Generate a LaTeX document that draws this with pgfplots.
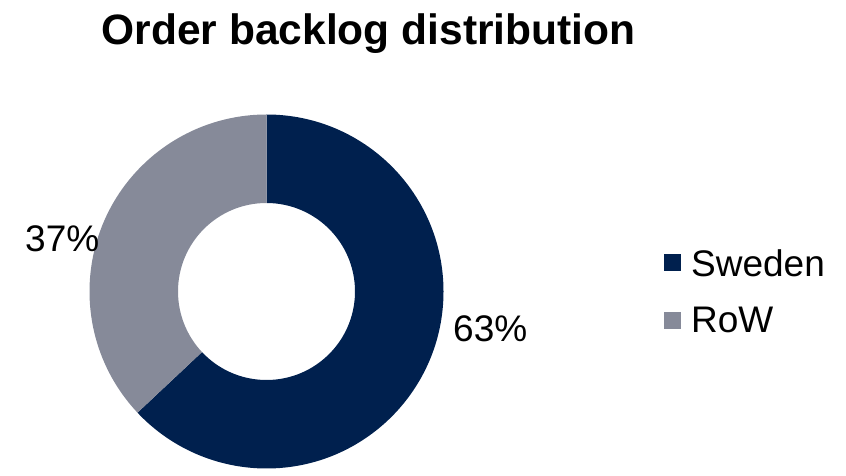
\documentclass[border=0pt]{standalone}
\usepackage{fontspec}
\setmainfont{Liberation Sans}
\usepackage{pgfplots}
\usepackage{pgfplotstable}
\pgfplotsset{compat=1.18}
\usetikzlibrary{calc}
\definecolor{sweden}{RGB}{0,32,78}
\definecolor{rowc}{RGB}{134,138,153}
\pgfplotstableread{
name value
Sweden 63
RoW 37
}\backlog
\begin{document}
\pgfplotstablegetelem{0}{value}\of\backlog\edef\vA{\pgfplotsretval}%
\pgfplotstablegetelem{1}{value}\of\backlog\edef\vB{\pgfplotsretval}%
\pgfmathsetmacro\fracA{\vA/(\vA+\vB)}%
\pgfmathsetmacro\angA{90-360*\fracA}%
\def\cx{266.5}\def\cy{184.5}%
\begin{tikzpicture}
\begin{axis}[at={(0,0)}, anchor=south west, scale only axis,
  width=846bp, height=476bp, xmin=0, xmax=846, ymin=0, ymax=476,
  hide axis, clip=false,
  legend cell align=left,
  legend image code/.code={\fill[#1] (0bp,-8bp) rectangle (17bp,9bp);},
  legend style={at={(axis cs:664,227)}, anchor=north west, draw=none, fill=none,
    inner sep=0pt, font=\fontsize{37bp}{41bp}\selectfont, row sep=30bp,
    /tikz/every odd column/.append style={column sep=10bp},
    nodes={inner sep=0pt}},
]
\addlegendimage{fill=sweden, draw=none}
\addlegendentry{Sweden}
\addlegendimage{fill=rowc, draw=none}
\addlegendentry{RoW}
\fill[sweden] ($(axis cs:\cx,\cy)+(90:177bp)$) arc[start angle=90, end angle=\angA, radius=177bp]
  -- ($(axis cs:\cx,\cy)+(\angA:88.5bp)$) arc[start angle=\angA, end angle=90, radius=88.5bp] -- cycle;
\fill[rowc] ($(axis cs:\cx,\cy)+(\angA:177bp)$) arc[start angle=\angA, end angle=-270, radius=177bp]
  -- ($(axis cs:\cx,\cy)+(90:88.5bp)$) arc[start angle=-270, end angle=\angA, radius=88.5bp] -- cycle;
\node[anchor=base west, inner sep=0pt, font=\fontsize{37bp}{41bp}\selectfont] at (axis cs:25,224) {\vB\%};
\node[anchor=base west, inner sep=0pt, font=\fontsize{37bp}{41bp}\selectfont] at (axis cs:453,134) {\vA\%};
\node[anchor=base, inner sep=0pt, font=\fontsize{42.5bp}{50bp}\selectfont\bfseries] at (axis cs:368.5,431) {Order backlog distribution};
\end{axis}
\path (0,0) rectangle (846bp,476bp);
\end{tikzpicture}
\end{document}
